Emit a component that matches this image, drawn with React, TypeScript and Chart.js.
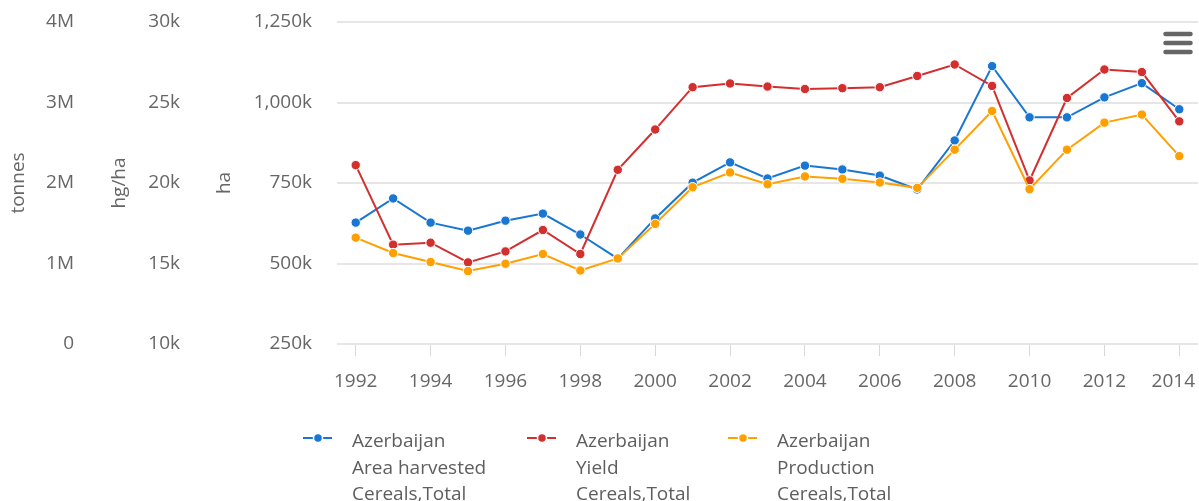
import React, { useEffect, useRef } from 'react';
import { Chart, registerables } from 'chart.js';

Chart.register(...registerables);

const years = ['1992', '1993', '1994', '1995', '1996', '1997', '1998', '1999', '2000', '2001', '2002', '2003', '2004', '2005', '2006', '2007', '2008', '2009', '2010', '2011', '2012', '2013', '2014'];

// ha
const areaHarvested = [627000, 702000, 627000, 602000, 633000, 655000, 590000, 515000, 640000, 751000, 814000, 764000, 804000, 792000, 773000, 730000, 882000, 1113000, 954000, 954000, 1016000, 1060000, 979000];
// hg/ha
const yieldValues = [21110, 16170, 16290, 15070, 15750, 17080, 15590, 20820, 23320, 25950, 26180, 25990, 25840, 25890, 25950, 26650, 27360, 26030, 20160, 25280, 27050, 26890, 23830];
// tonnes
const production = [1321000, 1130000, 1018000, 906000, 997000, 1118000, 913000, 1063000, 1492000, 1948000, 2131000, 1985000, 2081000, 2052000, 2006000, 1940000, 2414000, 2895000, 1923000, 2414000, 2750000, 2850000, 2334000];

const tonnesTickLabels = ['0', '1M', '2M', '3M', '4M'];
const hgHaTickLabels = ['10k', '15k', '20k', '25k', '30k'];
const haTickLabels = ['250k', '500k', '750k', '1,000k', '1,250k'];

const legendLabels = [
  ['Azerbaijan', 'Area harvested', 'Cereals,Total'],
  ['Azerbaijan', 'Yield', 'Cereals,Total'],
  ['Azerbaijan', 'Production', 'Cereals,Total'],
];

const BLUE = '#1976D2';
const RED = '#D32F2F';
const ORANGE = '#FFA000';
const COLORS = [BLUE, RED, ORANGE];
const FONT_FAMILY = '"Open Sans", sans-serif';
const TEXT = '#666666';

const lastLabelPlugin = {
  id: 'keepLastLabelInside',
  beforeDraw(chart: any) {
    const items = chart.scales.x.getLabelItems();
    const last = items[items.length - 1];
    if (last) {
      last.options.textAlign = 'right';
      last.options.translation = [chart.width - 4, last.options.translation[1]];
    }
  },
};

const legendPlugin = {
  id: 'customLegend',
  afterDraw(chart: any) {
    const ctx = chart.ctx;
    ctx.save();
    const starts = [303, 527, 728];
    const baselines = [447, 473.5, 500];
    const symY = 438;
    legendLabels.forEach((lines, i) => {
      const x = starts[i];
      const c = COLORS[i];
      ctx.strokeStyle = c;
      ctx.lineWidth = 2;
      ctx.beginPath();
      ctx.moveTo(x, symY);
      ctx.lineTo(x + 29, symY);
      ctx.stroke();
      ctx.beginPath();
      ctx.arc(x + 15, symY, 4.5, 0, Math.PI * 2);
      ctx.fillStyle = c;
      ctx.fill();
      ctx.lineWidth = 1.5;
      ctx.strokeStyle = '#ffffff';
      ctx.stroke();
      ctx.fillStyle = '#5e5e5e';
      ctx.font = '19px ' + FONT_FAMILY;
      ctx.textAlign = 'left';
      ctx.textBaseline = 'alphabetic';
      lines.forEach((t, j) => ctx.fillText(t, x + 49, baselines[j]));
    });
    // menu icon
    ctx.strokeStyle = '#666666';
    ctx.lineWidth = 4.5;
    ctx.lineCap = 'round';
    [34, 43, 52].forEach((y) => {
      ctx.beginPath();
      ctx.moveTo(1165.5, y);
      ctx.lineTo(1190.5, y);
      ctx.stroke();
    });
    ctx.restore();
  },
};

const font = { family: FONT_FAMILY, size: 19 };

const fixY = (w: number) => (s: any) => {
  s.width = w;
  s.paddingTop = 0;
  s.paddingBottom = 0;
};

export default function App() {
  const ref = useRef<HTMLCanvasElement | null>(null);
  useEffect(() => {
    if (!ref.current) return;
    const mk = (label: string, data: number[], color: string, axis: string, order: number) => ({
      label,
      data,
      yAxisID: axis,
      borderColor: color,
      backgroundColor: color,
      pointBackgroundColor: color,
      pointBorderColor: '#ffffff',
      pointBorderWidth: 1,
      pointRadius: 4.7,
      borderWidth: 2,
      tension: 0,
      clip: false,
      order,
    });
    const chart = new Chart(ref.current, {
      type: 'line',
      data: {
        labels: years,
        datasets: [
          mk(legendLabels[0].join(' '), areaHarvested, BLUE, 'yHa', 3),
          mk(legendLabels[1].join(' '), yieldValues, RED, 'yHgHa', 2),
          mk(legendLabels[2].join(' '), production, ORANGE, 'yTonnes', 1),
        ],
      },
      options: {
        animation: false,
        responsive: true,
        maintainAspectRatio: false,
        layout: { autoPadding: false, padding: { top: 22, right: 1, bottom: 97, left: 0 } },
        plugins: { legend: { display: false }, tooltip: { enabled: false } },
        scales: {
          x: {
            type: 'category',
            offset: true,
            grid: { display: true, drawOnChartArea: false, drawTicks: true, tickLength: 12, offset: false, color: '#d8d8d8', lineWidth: 1 },
            border: { display: false },
            ticks: { autoSkip: false, maxRotation: 0, padding: 14, color: TEXT, font },
            afterBuildTicks: (s: any) => { s.ticks = s.ticks.filter((_t: any, i: number) => i % 2 === 0); },
            afterFit: (s: any) => { s.height = 60; s.paddingLeft = 0; s.paddingRight = 0; },
          },
          yTonnes: {
            type: 'linear', position: 'left', weight: 3, min: 0, max: 4000000,
            grid: { display: false, drawTicks: false }, border: { display: false },
            ticks: { stepSize: 1000000, padding: 12, color: TEXT, font, callback: (_v: any, i: number) => tonnesTickLabels[i] },
            title: { display: true, text: 'tonnes', color: TEXT, font, padding: { top: 7, bottom: 0 } },
            afterFit: fixY(86),
          },
          yHgHa: {
            type: 'linear', position: 'left', weight: 2, min: 10000, max: 30000,
            grid: { display: false, drawTicks: false }, border: { display: false },
            ticks: { stepSize: 5000, padding: 12, color: TEXT, font, callback: (_v: any, i: number) => hgHaTickLabels[i] },
            title: { display: true, text: 'hg/ha', color: TEXT, font, padding: { top: 22.6, bottom: 0 } },
            afterFit: fixY(106),
          },
          yHa: {
            type: 'linear', position: 'left', weight: 1, min: 250000, max: 1250000,
            grid: { display: true, drawTicks: false, color: '#e6e6e6', lineWidth: 2 }, border: { display: false },
            ticks: { stepSize: 250000, padding: 25, color: TEXT, font, callback: (_v: any, i: number) => haTickLabels[i] },
            title: { display: true, text: 'ha', color: TEXT, font, padding: { top: 21.6, bottom: 0 } },
            afterFit: fixY(145),
          },
        },
      } as any,
      plugins: [lastLabelPlugin, legendPlugin],
    });
    return () => chart.destroy();
  }, []);
  return (
    <div style={{ position: 'fixed', left: 0, top: 0, width: 1199, height: 501, background: '#fff' }}>
      <canvas ref={ref} />
    </div>
  );
}
